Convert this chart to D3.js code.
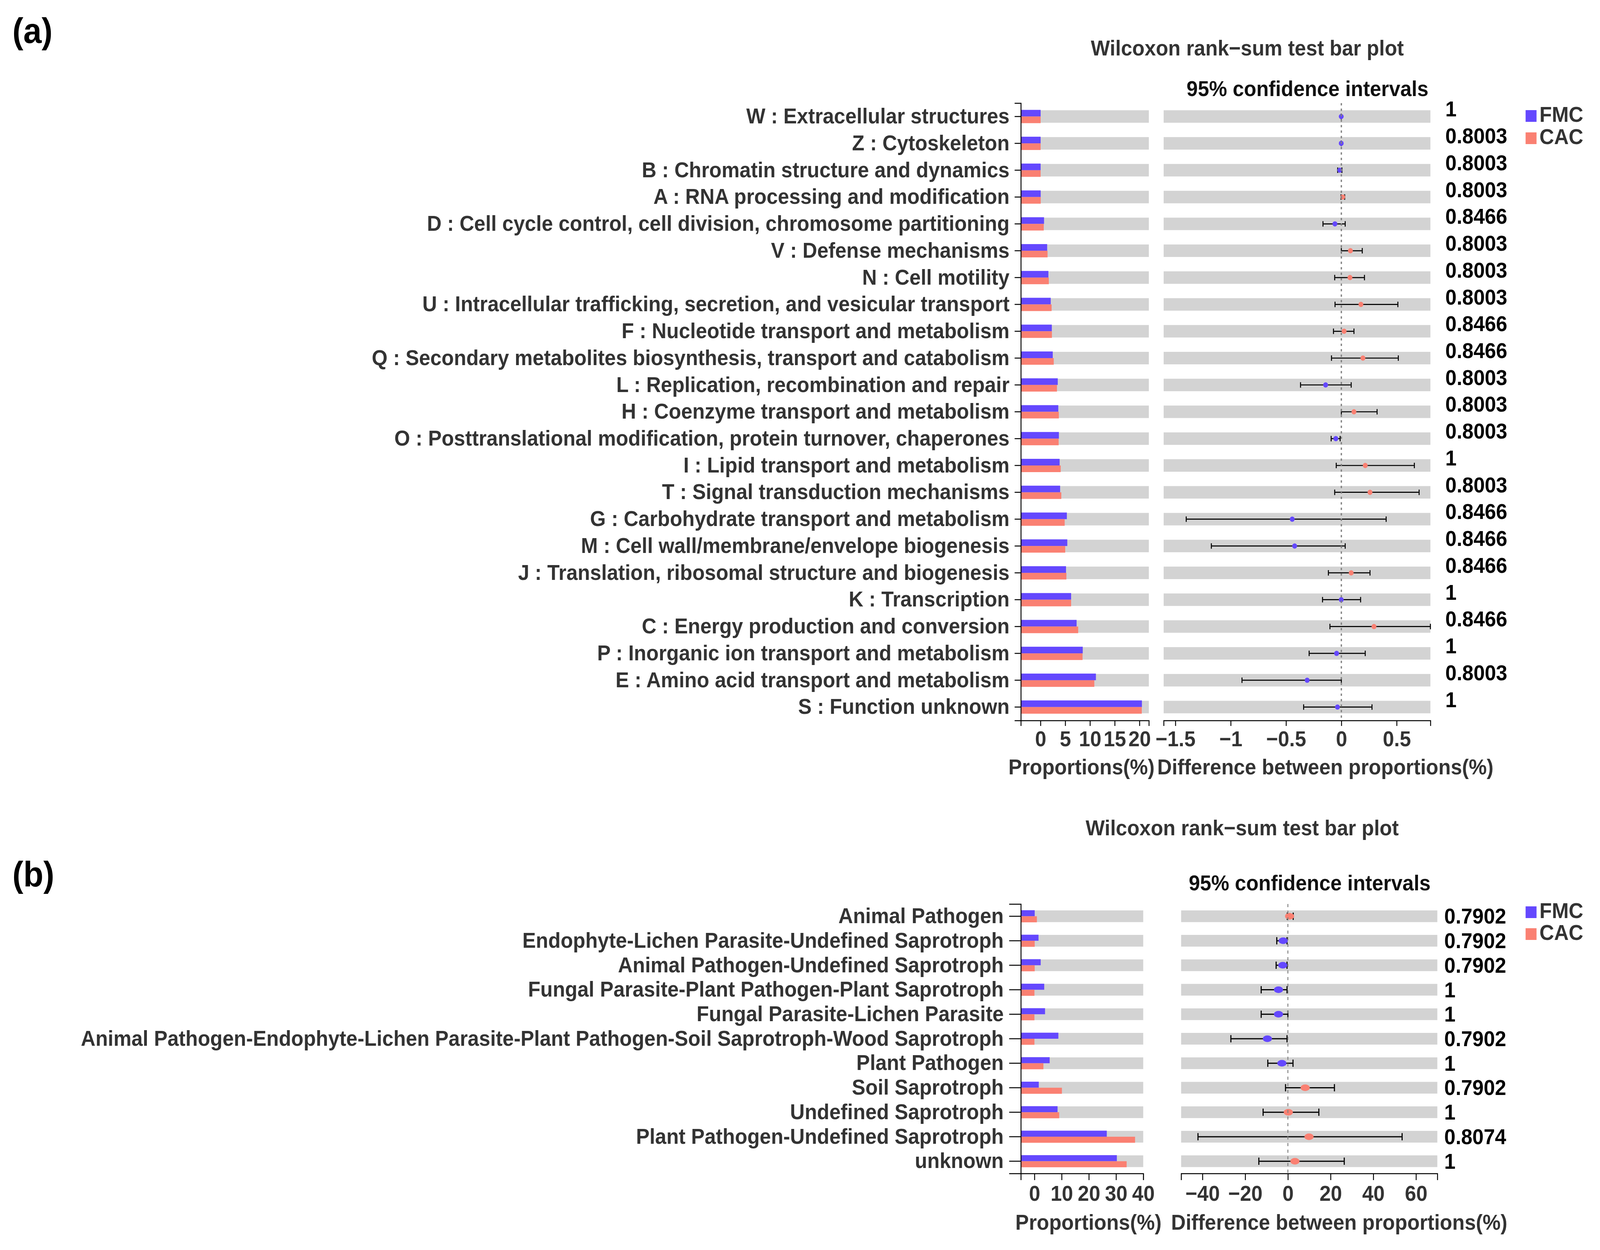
<!DOCTYPE html>
<html>
<head>
<meta charset="utf-8">
<script src="https://cdn.jsdelivr.net/npm/d3@7"></script>
<style>
	html, body{ margin:0; padding:0; background:#ffffff; overflow:hidden; }
	svg{ display:block; }
	svg text{ font-family:"Liberation Sans", Arial, sans-serif; font-weight:bold; }
</style>
</head>
<body>
<div id="chart"></div>
<script>
// Panel (a): COG categories
var cogLabels = [
	"W : Extracellular structures",
	"Z : Cytoskeleton",
	"B : Chromatin structure and dynamics",
	"A : RNA processing and modification",
	"D : Cell cycle control, cell division, chromosome partitioning",
	"V : Defense mechanisms",
	"N : Cell motility",
	"U : Intracellular trafficking, secretion, and vesicular transport",
	"F : Nucleotide transport and metabolism",
	"Q : Secondary metabolites biosynthesis, transport and catabolism",
	"L : Replication, recombination and repair",
	"H : Coenzyme transport and metabolism",
	"O : Posttranslational modification, protein turnover, chaperones",
	"I : Lipid transport and metabolism",
	"T : Signal transduction mechanisms",
	"G : Carbohydrate transport and metabolism",
	"M : Cell wall/membrane/envelope biogenesis",
	"J : Translation, ribosomal structure and biogenesis",
	"K : Transcription",
	"C : Energy production and conversion",
	"P : Inorganic ion transport and metabolism",
	"E : Amino acid transport and metabolism",
	"S : Function unknown"
];
var cogFMC  = [0.03, 0.03, 0.03, 0.04, 0.72, 1.35, 1.60, 2.07, 2.29, 2.48, 3.49, 3.60, 3.72, 3.87, 3.97, 5.33, 5.42, 5.16, 6.19, 7.30, 8.54, 11.20, 20.50];
var cogCAC  = [0.03, 0.03, 0.03, 0.05, 0.66, 1.43, 1.68, 2.25, 2.31, 2.68, 3.33, 3.71, 3.67, 4.09, 4.21, 4.89, 5.00, 5.24, 6.19, 7.62, 8.50, 10.88, 20.47];
var cogDiff = [-0.001, -0.001, -0.014, 0.013, -0.058, 0.082, 0.078, 0.177, 0.025, 0.195, -0.142, 0.114, -0.050, 0.216, 0.259, -0.444, -0.422, 0.089, -0.001, 0.295, -0.043, -0.309, -0.035];
var cogLow  = [-0.001, -0.001, -0.033, -0.003, -0.166, 0.000, -0.060, -0.057, -0.071, -0.089, -0.369, 0.000, -0.092, -0.046, -0.060, -1.402, -1.175, -0.117, -0.170, -0.103, -0.291, -0.898, -0.341];
var cogHigh = [-0.001, -0.001, 0.005, 0.030, 0.035, 0.189, 0.209, 0.511, 0.114, 0.515, 0.089, 0.323, -0.011, 0.660, 0.703, 0.405, 0.035, 0.259, 0.174, 0.805, 0.216, 0.000, 0.277];
var cogP = ["1","0.8003","0.8003","0.8003","0.8466","0.8003","0.8003","0.8003","0.8466","0.8466","0.8003","0.8003","0.8003","1","0.8003","0.8466","0.8466","0.8466","1","0.8466","1","0.8003","1"];
var cogPropTicks = [0, 5, 10, 15, 20];
var cogDiffTicks = [-1.5, -1, -0.5, 0, 0.5];

// Panel (b): FUNGuild guilds
var funLabels = [
	"Animal Pathogen",
	"Endophyte-Lichen Parasite-Undefined Saprotroph",
	"Animal Pathogen-Undefined Saprotroph",
	"Fungal Parasite-Plant Pathogen-Plant Saprotroph",
	"Fungal Parasite-Lichen Parasite",
	"Animal Pathogen-Endophyte-Lichen Parasite-Plant Pathogen-Soil Saprotroph-Wood Saprotroph",
	"Plant Pathogen",
	"Soil Saprotroph",
	"Undefined Saprotroph",
	"Plant Pathogen-Undefined Saprotroph",
	"unknown"
];
var funFMC  = [0.1, 1.5, 2.3, 3.6, 3.9, 8.8, 5.6, 1.6, 8.5, 26.6, 30.3];
var funCAC  = [0.9, 0.1, 0.1, 0.0, 0.0, 0.0, 3.3, 10.1, 9.1, 37.0, 33.9];
var funDiff = [0.8, -2.2, -2.4, -4.4, -4.4, -9.6, -2.8, 8.1, 0.2, 9.9, 3.3];
var funLow  = [-0.3, -5.2, -5.5, -12.5, -12.5, -26.7, -9.4, -1.1, -11.6, -42.1, -13.6];
var funHigh = [2.5, -0.4, -0.4, -0.4, 0.0, -0.4, 2.4, 21.8, 14.5, 53.5, 26.4];
var funP = ["0.7902","0.7902","0.7902","1","1","0.7902","1","0.7902","1","0.8074","1"];
var funPropTicks = [0, 10, 20, 30, 40];
var funDiffTicks = [-40, -20, 0, 20, 40, 60];

var groups = ["FMC", "CAC"];
var groupColors = ["#6448FE", "#FA8072"];

var W = 4387, H = 3201;
var FS = 55.5;		// font size used for all chart text
var TXT = "#333333";

// drawing space is fixed at 4387x3201 and stretched to whatever the window gives
var svg = d3.select("#chart").append("svg")
	.attr("viewBox", "0 0 " + W + " " + H)
	.attr("preserveAspectRatio", "none")
	.style("width", "100vw").style("height", "100vh")
	.style("background", "#ffffff");

// Builds one STAMP-like panel: proportions bars + difference with CI
buildPanel = function(svg, d, o){
	var g = svg.append("g");
	var rows = d.labels.map(function(l, i){
		return {label:l, fmc:d.fmc[i], cac:d.cac[i], diff:d.diff[i], low:d.low[i], high:d.high[i], p:d.p[i]};
	});

	var y = d3.scaleBand().domain(d.labels).range([o.top, o.bottom]);
	var cy = function(l){ return y(l) + y.bandwidth()/2; };
	var xp = d3.scaleLinear().domain(o.propDomain).range(o.propRange);
	var xd = d3.scaleLinear().domain(o.diffDomain).range(o.diffRange);

	// gray row bands
	g.selectAll(".bandP").data(rows).enter().append("rect")
		.attr("x", o.propRange[0]).attr("width", o.propRange[1] - o.propRange[0])
		.attr("y", function(r){ return cy(r.label) - o.band; })
		.attr("height", o.band*2).attr("fill", "#D3D3D3");
	g.selectAll(".bandD").data(rows).enter().append("rect")
		.attr("x", o.diffRange[0]).attr("width", o.diffRange[1] - o.diffRange[0])
		.attr("y", function(r){ return cy(r.label) - o.band; })
		.attr("height", o.band*2).attr("fill", "#D3D3D3");

	// proportion bars (start at panel edge)
	g.selectAll(".barF").data(rows).enter().append("rect")
		.attr("x", o.propRange[0])
		.attr("width", function(r){ return xp(r.fmc) - o.propRange[0]; })
		.attr("y", function(r){ return cy(r.label) - o.barH; })
		.attr("height", o.barH).attr("fill", groupColors[0]);
	g.selectAll(".barC").data(rows).enter().append("rect")
		.attr("x", o.propRange[0])
		.attr("width", function(r){ return xp(r.cac) - o.propRange[0]; })
		.attr("y", function(r){ return cy(r.label); })
		.attr("height", o.barH).attr("fill", groupColors[1]);

	// error bars
	var eg = g.append("g").attr("stroke", "#000000").attr("stroke-width", o.errW);
	eg.selectAll(".err").data(rows).enter().append("line")
		.attr("x1", function(r){ return xd(r.low); }).attr("x2", function(r){ return xd(r.high); })
		.attr("y1", function(r){ return cy(r.label); }).attr("y2", function(r){ return cy(r.label); });
	eg.selectAll(".capL").data(rows).enter().append("line")
		.attr("x1", function(r){ return xd(r.low); }).attr("x2", function(r){ return xd(r.low); })
		.attr("y1", function(r){ return cy(r.label) - o.cap; }).attr("y2", function(r){ return cy(r.label) + o.cap; });
	eg.selectAll(".capH").data(rows).enter().append("line")
		.attr("x1", function(r){ return xd(r.high); }).attr("x2", function(r){ return xd(r.high); })
		.attr("y1", function(r){ return cy(r.label) - o.cap; }).attr("y2", function(r){ return cy(r.label) + o.cap; });

	// difference points, coloured by the group with larger mean
	g.selectAll(".pt").data(rows).enter().append("ellipse")
		.attr("cx", function(r){ return xd(r.diff); })
		.attr("cy", function(r){ return cy(r.label); })
		.attr("rx", o.rx).attr("ry", o.ry)
		.attr("fill", function(r){ return r.diff > 0 ? groupColors[1] : groupColors[0]; });

	// zero line
	g.append("line")
		.attr("x1", xd(0)).attr("x2", xd(0))
		.attr("y1", o.top).attr("y2", o.bottom)
		.attr("stroke", "#808080").attr("stroke-width", o.dashW)
		.attr("stroke-dasharray", o.dash);

	// axes
	var yAxis = d3.axisLeft(y).tickSize(o.yTick).tickSizeOuter(o.yTick).tickPadding(o.yPad);
	var ya = g.append("g").attr("transform", "translate(" + o.propRange[0] + ",0)").call(yAxis);

	var fmt = d3.format("~g");
	var xpa = g.append("g").attr("transform", "translate(0," + o.bottom + ")")
		.call(d3.axisBottom(xp).tickValues(d.propTicks).tickSize(o.xTick).tickSizeOuter(o.xTick).tickPadding(o.xPad).tickFormat(fmt));
	var xda = g.append("g").attr("transform", "translate(0," + o.bottom + ")")
		.call(d3.axisBottom(xd).tickValues(d.diffTicks).tickSize(o.xTick).tickSizeOuter(o.xTick).tickPadding(o.xPad).tickFormat(fmt));

	[ya, xpa, xda].forEach(function(a){
		a.attr("font-size", null).attr("font-family", null).attr("color", "#000000");
		a.selectAll("path, line").attr("stroke-width", 2.5);
		a.selectAll("text").style("font-size", FS + "px").attr("fill", TXT);
	});

	// p-values
	g.selectAll(".pv").data(rows).enter().append("text")
		.attr("x", o.pX).attr("y", function(r){ return cy(r.label) + o.pDy; })
		.style("font-size", FS + "px").attr("fill", "#000000")
		.text(function(r){ return r.p; });

	// titles
	g.append("text").attr("x", o.titleX).attr("y", o.titleY).attr("text-anchor", "middle")
		.style("font-size", FS + "px").attr("fill", TXT).text("Wilcoxon rank\u2212sum test bar plot");
	g.append("text").attr("x", o.ciX).attr("y", o.ciY).attr("text-anchor", "middle")
		.style("font-size", FS + "px").attr("fill", "#111111").text("95% confidence intervals");
	g.append("text").attr("x", o.propTitleX).attr("y", o.axisTitleY)
		.style("font-size", FS + "px").attr("fill", TXT).text("Proportions(%)");
	g.append("text").attr("x", o.diffTitleX).attr("y", o.axisTitleY)
		.style("font-size", FS + "px").attr("fill", TXT).text("Difference between proportions(%)");

	// legend
	groups.forEach(function(name, i){
		g.append("rect").attr("x", 4183).attr("y", o.legY[i]).attr("width", 30).attr("height", 30)
			.attr("fill", groupColors[i]);
		g.append("text").attr("x", 4221).attr("y", o.legY[i] + 30)
			.style("font-size", FS + "px").attr("fill", TXT).text(name);
	});

	// panel letter
	g.append("text").attr("x", 34).attr("y", o.letterY)
		.style("font-size", "90px").attr("fill", "#000000").text(o.letter);
}

buildPanel(svg,
	{labels:cogLabels, fmc:cogFMC, cac:cogCAC, diff:cogDiff, low:cogLow, high:cogHigh, p:cogP,
	 propTicks:cogPropTicks, diffTicks:cogDiffTicks},
	{top:264, bottom:1845,
	 propDomain:[-3.97, 21.9], propRange:[2799, 3150],
	 diffDomain:[-1.606, 0.805], diffRange:[3190.6, 3922],
	 band:16, barH:17, errW:2.7, cap:7, rx:6.7, ry:6.7,
	 dashW:3.5, dash:"6,8",
	 yTick:17, yPad:14, xTick:14, xPad:12.6,
	 pX:3963, pDy:0,
	 titleX:3420, titleY:142, ciX:3585, ciY:246,
	 propTitleX:2765, diffTitleX:3173, axisTitleY:1983,
	 legY:[282, 339], letter:"(a)", letterY:110});

buildPanel(svg,
	{labels:funLabels, fmc:funFMC, cac:funCAC, diff:funDiff, low:funLow, high:funHigh, p:funP,
	 propTicks:funPropTicks, diffTicks:funDiffTicks},
	{top:2315, bottom:3005,
	 propDomain:[-5, 40], propRange:[2799, 3134.6],
	 diffDomain:[-50, 70], diffRange:[3238.5, 3941],
	 band:15, barH:15.5, errW:3, cap:9.3, rx:12.5, ry:8.5,
	 dashW:2.5, dash:"8,9",
	 yTick:32, yPad:15, xTick:17, xPad:13.6,
	 pX:3960, pDy:19,
	 titleX:3406, titleY:2139, ciX:3591, ciY:2280,
	 propTitleX:2784, diffTitleX:3211, axisTitleY:3149,
	 legY:[2321, 2377], letter:"(b)", letterY:2270});
</script>
</body>
</html>
